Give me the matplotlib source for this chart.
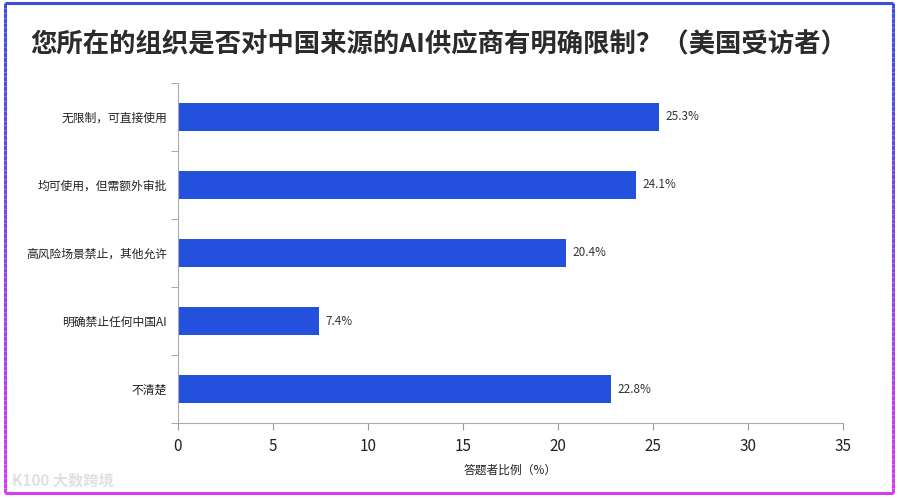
import numpy as np
import matplotlib.pyplot as plt
from matplotlib.collections import LineCollection
from matplotlib.colors import LinearSegmentedColormap

plt.rcParams['font.family'] = ['Noto Sans CJK SC', 'DejaVu Sans']

categories = ['无限制，可直接使用', '均可使用，但需额外审批', '高风险场景禁止，其他允许',
              '明确禁止任何中国AI', '不清楚']
values = [25.3, 24.1, 20.4, 7.4, 22.8]
x_ticks = [0, 5, 10, 15, 20, 25, 30, 35]

fig = plt.figure(figsize=(9, 4.98), dpi=100)
ax = fig.add_axes([178 / 900, 1 - 423 / 498, (843 - 178) / 900, (423 - 83) / 498])

y = np.arange(len(categories))
ax.barh(y, values, height=0.4, color='#2350DC')
for yi, v in zip(y, values):
    ax.text(v + 0.35, yi, f'{v}%', va='center', ha='left', fontsize=8.5, color='#333333')

ax.set_ylim(len(categories) - 0.5, -0.5)
ax.set_xlim(0, 35)
ax.set_xticks(x_ticks)
ax.set_yticks(y)
ax.set_yticklabels(categories, fontsize=8.5, color='#222222')
ax.tick_params(axis='y', length=0, pad=8)
ax.set_yticks(np.arange(-0.5, len(categories)), minor=True)
ax.tick_params(axis='y', which='minor', length=5, color='#999999')
ax.tick_params(axis='x', length=5, color='#999999', labelsize=11, labelcolor='#222222', pad=6)
for s in ['top', 'right']:
    ax.spines[s].set_visible(False)
for s in ['left', 'bottom']:
    ax.spines[s].set_color('#aaaaaa')
ax.set_xlabel('答题者比例（%）', fontsize=8.5, color='#222222', labelpad=6)

fig.text(30 / 900, 1 - 45 / 498, '您所在的组织是否对中国来源的AI供应商有明确限制？（美国受访者）',
         fontsize=19, fontweight='heavy', color='#2b2b2b', va='center', ha='left')

# watermark
fig.text(12 / 900, 1 - 481 / 498, 'K100 大数跨境', fontsize=11, color='#e0e0e0',
         va='center', ha='left', fontweight='bold')

# gradient border
cmap = LinearSegmentedColormap.from_list('b', ['#3B4FDC', '#D43CF0'])
x0, x1, y0, y1 = 5 / 900, 893 / 900, 1 - 493 / 498, 1 - 3 / 498
n = 100
ts = np.linspace(y1, y0, n + 1)
segs, cols = [], []
for i in range(n):
    frac = i / n
    for xx in (x0, x1):
        segs.append([(xx, ts[i]), (xx, ts[i + 1])])
        cols.append(cmap(frac))
segs.append([(x0, y1), (x1, y1)]); cols.append(cmap(0.0))
segs.append([(x0, y0), (x1, y0)]); cols.append(cmap(1.0))
lc = LineCollection(segs, colors=cols, linewidths=2.2, transform=fig.transFigure)
fig.add_artist(lc)

fig.savefig('out.png', dpi=100)
